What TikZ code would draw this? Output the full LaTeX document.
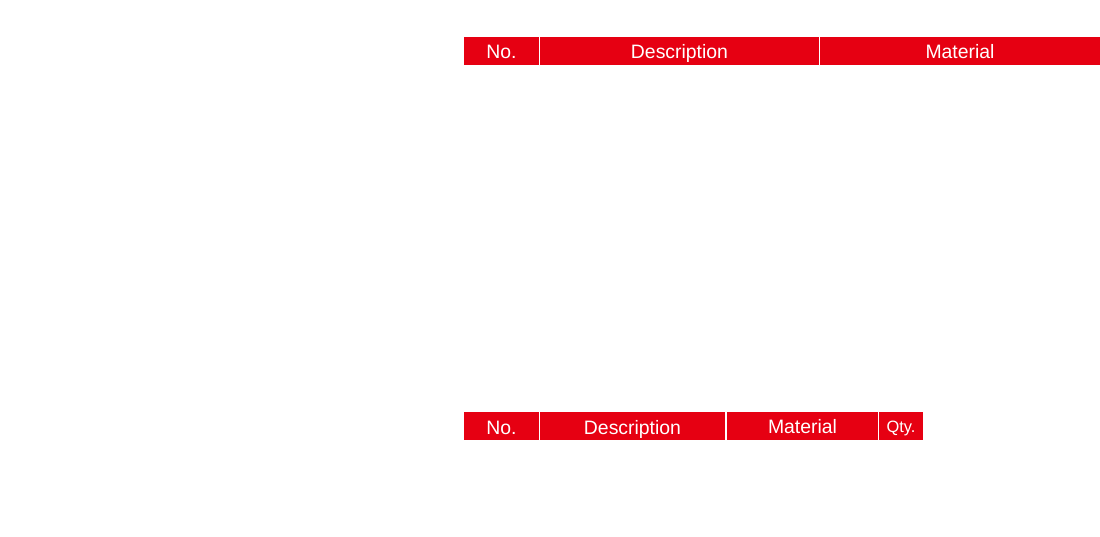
\documentclass[tikz,border=0pt]{standalone}
\usepackage{fontspec}
\setmainfont{Liberation Sans}
\tikzset{
	head cell/.style={anchor=north west, fill=headred, text=white, inner sep=0, outer sep=0, minimum height=28pt, text height=22pt, text depth=6pt, align=center, font=\fontsize{19.4}{20}\selectfont},
	raised cell/.style={head cell, text height=21pt, text depth=7pt},
	small cell/.style={head cell, text height=20pt, text depth=8pt, font=\fontsize{16.4}{18}\selectfont},
}
\definecolor{headred}{RGB}{230,0,18}
\begin{document}
\begin{tikzpicture}[x=1pt, y=-1pt]
  \useasboundingbox (0,0) rectangle (1100,537);

  % upper table head
  \node[head cell, minimum width=75pt] (no1) at (464,37) {No.};
  \node[head cell, minimum width=279pt] (desc1) at (540,37) {Description};
  \node[head cell, minimum width=280pt] (mat1) at (820,37) {Material};

  % lower table head
  \node[head cell, minimum width=75pt] (no2) at (464,412) {No.};
  \node[head cell, minimum width=185pt] (desc2) at (540,412) {Description};
  \node[raised cell, minimum width=151pt] (mat2) at (727,412) {Material};
  \node[small cell, minimum width=44pt] (qty2) at (879,412) {Qty.};
\end{tikzpicture}
\end{document}
